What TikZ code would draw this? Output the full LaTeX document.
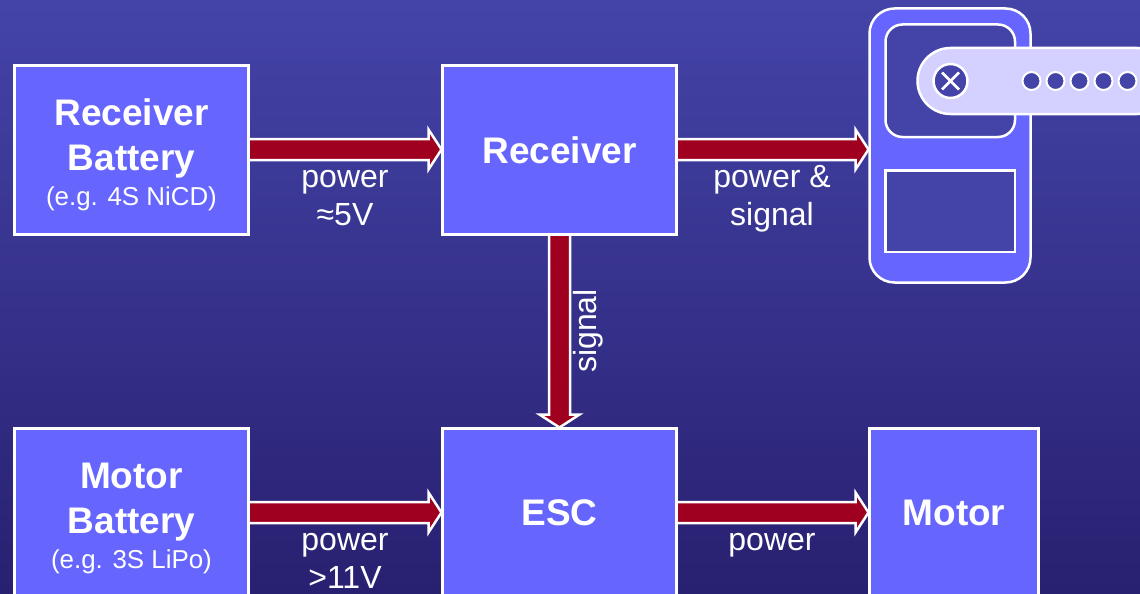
\documentclass[tikz,border=0pt]{standalone}
\usepackage{fontspec}
\setmainfont{Liberation Sans}
\usetikzlibrary{calc}
\definecolor{bgtop}{RGB}{68,68,168}
\definecolor{bgbot}{RGB}{40,32,112}
\definecolor{boxfill}{RGB}{102,102,255}
\definecolor{panel}{RGB}{68,68,168}
\definecolor{horn}{RGB}{212,208,255}
\definecolor{conn}{RGB}{160,0,32}
\newcommand{\bigfont}{\fontsize{37}{45}\selectfont\bfseries}
\newcommand{\smallline}[1]{\raisebox{0pt}[0pt][0pt]{\fontsize{25.9}{33}\selectfont\mdseries #1}}
\newcommand{\topstrut}{\rule{0pt}{30pt}}
\newcommand{\harrow}[2]{\draw[connector] ($(#1)+(0,-11)$) -- ($(#2)+(-14,-11)$) -- ($(#2)+(-14,-20.5)$) -- ($(#2)+(-1,-0.5)$) -- ($(#2)+(-14,19.5)$) -- ($(#2)+(-14,10)$) -- ($(#1)+(0,10)$) -- cycle;}
\newcommand{\varrow}[2]{\draw[connector] ($(#1)+(-10.5,0)$) -- ($(#2)+(-10.5,-14)$) -- ($(#2)+(-20,-14)$) -- ($(#2)+(0,-1)$) -- ($(#2)+(20,-14)$) -- ($(#2)+(10.5,-14)$) -- ($(#1)+(10.5,0)$) -- cycle;}
\tikzset{
  block/.style={draw=white,line width=2.2pt,fill=boxfill,text=white,align=center,inner sep=0pt,outer sep=0pt,minimum height=169pt,font=\bigfont},
  connector/.style={draw=white,line width=2.5pt,fill=conn,miter limit=10},
  lbl/.style={text=white,font=\fontsize{32}{38}\selectfont,anchor=base,inner sep=0pt},
  servobody/.style={draw=white,line width=2.5pt,fill=boxfill,inner sep=0pt,outer sep=0pt,minimum width=161pt,minimum height=274pt,rounded corners=25pt},
  panelbox/.style={draw=white,line width=2.5pt,fill=panel,inner sep=0pt,outer sep=0pt},
  hole/.style={circle,draw=white,line width=2pt,fill=panel,inner sep=0pt,outer sep=0pt,minimum size=18pt},
}
\begin{document}
\begin{tikzpicture}[x=1pt,y=-1pt]
\useasboundingbox (0,0) rectangle (1140,594);
\clip (0,0) rectangle (1140,594);
\shade[top color=bgtop,bottom color=bgbot] (0,0) rectangle (1140,594);
\node[block,minimum width=234pt] (rb) at (131.5,150) {\topstrut Receiver\\Battery\\[-10pt]\smallline{(e.g. 4S NiCD)}};
\node[block,minimum width=234pt] (rx) at (559.5,150) {Receiver};
\node[block,minimum width=234pt] (mb) at (131.5,513) {\topstrut Motor\\Battery\\[-10pt]\smallline{(e.g. 3S LiPo)}};
\node[block,minimum width=234pt] (esc) at (559.5,513) {ESC};
\node[block,minimum width=169pt] (motor) at (954,513) {Motor};
\node[servobody] (servo) at (950,145.5) {};
\draw[panelbox,rounded corners=17pt] (885.5,24.5) rectangle (1015,137);
\node[panelbox,minimum width=129.5pt,minimum height=81.5pt] (window) at (950,211) {};
\draw[panelbox,fill=horn,rounded corners=33pt] (917.5,48) rectangle (1170,114);
\node[hole,minimum size=34pt,line width=2.5pt] (hub) at (950.5,81) {};
\draw[white,line width=2.5pt] (hub.center) ++(-8.5,-8.5) -- ++(17,17);
\draw[white,line width=2.5pt] (hub.center) ++(8.5,-8.5) -- ++(-17,17);
\node[hole] (h1) at (1031.5,81) {};
\node[hole] (h2) at (1055.5,81) {};
\node[hole] (h3) at (1079.5,81) {};
\node[hole] (h4) at (1103.5,81) {};
\node[hole] (h5) at (1127.5,81) {};
\harrow{rb.east}{rx.west}
\harrow{rx.east}{servo.west |- rx.east}
\harrow{mb.east}{esc.west}
\harrow{esc.east}{motor.west}
\varrow{rx.south}{esc.north}
\node[lbl] (l1) at (345,187) {power};
\node[lbl] (l2) at (345,225) {≈5V};
\node[lbl] (l3) at (772,187) {power \&};
\node[lbl] (l4) at (772,225) {signal};
\node[lbl,rotate=90] (l5) at (596,331) {signal};
\node[lbl] (l6) at (345,550) {power};
\node[lbl] (l7) at (345,588) {>11V};
\node[lbl] (l8) at (772,550) {power};
\end{tikzpicture}
\end{document}
